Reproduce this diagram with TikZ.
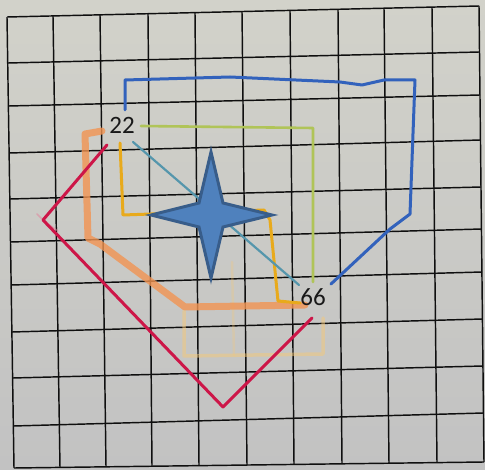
\documentclass[tikz,border=0pt]{standalone}
\usepackage{fontspec}
\setmainfont{Carlito}
\definecolor{papertop}{RGB}{210,210,202}
\definecolor{paperbot}{RGB}{194,194,194}
\definecolor{gridcol}{RGB}{15,15,15}
\definecolor{bluepen}{RGB}{50,98,188}
\definecolor{tealpen}{RGB}{85,150,172}
\definecolor{olivepen}{RGB}{176,196,88}
\definecolor{amberpen}{RGB}{232,170,28}
\definecolor{orangepen}{RGB}{242,148,82}
\definecolor{palepen}{RGB}{245,200,120}
\definecolor{redpen}{RGB}{205,22,72}
\definecolor{starfill}{RGB}{79,129,189}
\definecolor{starline}{RGB}{56,93,138}
\begin{document}
\begin{tikzpicture}[x=1pt,y=-1pt,
  gridline/.style={line width=1.45pt, draw=gridcol},
  pen/.style={line cap=round, line join=round},
  numlabel/.style={font=\fontsize{25}{25}\selectfont, text=black!90, inner sep=0pt}]
\useasboundingbox (0,0) rectangle (485,470);
\shade[top color=papertop, bottom color=paperbot] (0,0) rectangle (485,470);
% grid
\foreach \yl/\yr in {17/6, 63/52, 106/95, 153/140, 199/187, 242/229, 285/272, 332/319, 378/366, 426/413, 468/462}
  {\draw[gridline] ({7+7*\yl/468},\yl) -- ({479+5*\yl/463},\yr);}
\foreach \xt/\xb in {7/14, 53/60, 100/106, 148/152, 195/199, 242/247, 290/294, 338/342, 384/389, 432/437, 479/484}
  {\draw[gridline] (\xt,{17-11*(\xt-7)/472}) -- (\xb,{468-6*(\xb-14)/470});}
% faint rectangle
\draw[pen, draw=palepen, line width=3.5pt, opacity=0.5]
  (184,311) -- (184,356) -- (323,354) -- (323,318);
\draw[pen, draw=palepen, line width=2.5pt, opacity=0.3] (232,262) -- (234,355);
% thick orange
\draw[pen, draw=orangepen, line width=7pt, opacity=0.8]
  (102,131) -- (85,134) -- (88,238) -- (100,244) -- (185,307) -- (305,305);
% olive
\draw[pen, draw=olivepen, line width=2.6pt] (141,126) -- (313,128) -- (313,282);
% amber
\draw[pen, draw=amberpen, line width=3pt]
  (120,143) -- (123,215) -- (264,210) -- (270,220) -- (278,301) -- (300,303);
% teal diagonal
\draw[pen, draw=tealpen, line width=2.2pt] (133,142) -- (299,285);
% blue polygon
\draw[pen, draw=bluepen, line width=3pt]
  (125,110) -- (125,80) -- (230,77) -- (340,82) -- (362,85) -- (384,80) -- (415,80)
  -- (410,214) -- (390,229) -- (331,284);
% red
\draw[pen, draw=redpen!55, line width=1.5pt, opacity=0.5] (37,214) -- (44,221) -- (58,231);
\draw[pen, draw=redpen, line width=3pt]
  (107,145) -- (43,220) -- (223,407) -- (312,318);
% labels
\node[numlabel] (n22) at (122,125) {22};
\node[numlabel] (n66) at (313,297) {66};
% star
\draw[starline, fill=starfill, line width=3pt, line join=miter]
  (211,152) -- (223,203) -- (272,215) -- (223,227) -- (211,278)
  -- (199,227) -- (151,215) -- (199,203) -- cycle;
\end{tikzpicture}
\end{document}
